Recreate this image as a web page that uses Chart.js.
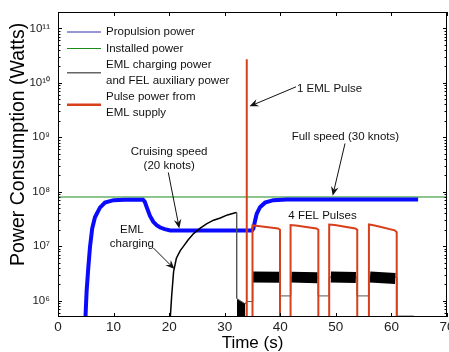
<!DOCTYPE html>
<html>
<head>
<meta charset="utf-8">
<script src="https://cdn.jsdelivr.net/npm/chart.js@4/dist/chart.umd.min.js"></script>
<style>
  html, body { margin: 0; padding: 0; background: #fff; }
  canvas { display: block; }
</style>
</head>
<body>
<canvas id="chart" width="449" height="352"></canvas>
<script>
// values: time in s, power in W
const propTime  = [4.85, 5.15, 5.45, 5.75, 6.15, 6.65, 7.55, 8.45, 10.0, 12.0, 15.3, 15.6, 15.96, 16.55, 17.15, 17.8, 18.4, 19.2, 20.2, 25.0, 30.0, 34.9, 35.15, 35.45, 35.75, 36.35, 37.25, 38.75, 41.15, 50.0, 64.8];
const propPower = [3e5, 1.5e6, 4e6, 9.5e6, 2.1e7, 3.4e7, 5.1e7, 6.3e7, 7.0e7, 7.1e7, 7.1e7, 6.6e7, 5.2e7, 3.6e7, 2.8e7, 2.4e7, 2.2e7, 2.05e7, 1.95e7, 1.95e7, 1.95e7, 1.95e7, 2.1e7, 2.9e7, 3.9e7, 5.2e7, 6.3e7, 7.0e7, 7.2e7, 7.2e7, 7.2e7];

const installTime  = [0, 70];
const installPower = [8e7, 8e7];

const emlTime  = [20.15, 20.45, 20.8, 21.3, 22.0, 22.6, 23.4, 24.4, 25.6, 26.8, 28.0, 29.2, 30.5, 31.9, 32.15, 32.15, 33.7, 33.95, 35.05, 35.05, 39.95, 39.95, 41.9, 41.9, 46.85, 46.85, 48.8, 48.8, 53.85, 53.85, 55.95, 55.95, 60.95, 60.95, 64.0];
const emlPower = [4e5, 1.2e6, 3.4e6, 6.0e6, 8.3e6, 1.0e7, 1.3e7, 1.7e7, 2.15e7, 2.6e7, 3.0e7, 3.3e7, 3.75e7, 4.1e7, 4.15e7, 1.1e6, 8.7e5, 9.6e5, 9.6e5, 2.7e6, 2.7e6, 1.22e6, 1.22e6, 2.7e6, 2.7e6, 1.22e6, 1.22e6, 2.7e6, 2.7e6, 1.22e6, 1.22e6, 2.7e6, 2.7e6, 5.2e5, 5.2e5];

// discharge block right after charging, and the FEL auxiliary ripple band
const blockTime  = [32.2, 32.9, 33.7];
const blockPower = [1.07e6, 9.6e5, 8.7e5];
const felTime  = [35.1, 39.9, 40.9, 42.0, 46.7, 47.9, 49.1, 53.6, 54.9, 56.15, 60.7];
const felPower = [2.72e6, 2.68e6, null, 2.7e6, 2.62e6, null, 2.72e6, 2.65e6, null, 2.72e6, 2.55e6];

const pulseTime  = [33.9, 33.9, 34.0, 34.0, 35.0, 35.0, 36.0, 39.6, 39.95, 39.95, 41.85, 41.85, 42.8, 46.5, 46.85, 46.85, 48.8, 48.8, 49.8, 53.5, 53.85, 53.85, 55.95, 55.95, 57.0, 60.6, 60.95, 60.95];
const pulsePower = [1e5, 2.7e10, 2.7e10, 1e5, 1e5, 2.4e7, 2.35e7, 2.12e7, 2.0e7, 1e5, 1e5, 2.45e7, 2.4e7, 2.12e7, 2.0e7, 1e5, 1e5, 2.5e7, 2.45e7, 2.12e7, 2.0e7, 1e5, 1e5, 2.5e7, 2.4e7, 1.95e7, 1.8e7, 1e5];

const seriesLabels = [
  ['Propulsion power'],
  ['Installed power'],
  ['EML charging power', 'and FEL auxiliary power'],
  ['Pulse power from', 'EML supply']
];

const xTicks = [0, 10, 20, 30, 40, 50, 60, 70];

// text notes and arrows, anchored in data units (time, watts)
const notes = [
  { lines: ['1 EML Pulse'], at: [43.0, 7.9e9], align: 'left' },
  { lines: ['Cruising speed', '(20 knots)'], at: [20.0, 5.3e8], align: 'center' },
  { lines: ['Full speed (30 knots)'], at: [42.05, 1.03e9], align: 'left' },
  { lines: ['EML', 'charging'], at: [13.3, 1.98e7], align: 'center' },
  { lines: ['4 FEL Pulses'], at: [41.44, 3.55e7], align: 'left' }
];
const arrows = [
  { from: [42.83, 8.45e9], to: [34.46, 3.7e9] },
  { from: [19.85, 2.26e8], to: [21.83, 2.12e7] },
  { from: [51.65, 7.7e8], to: [49.43, 8.45e7] },
  { from: [17.15, 9.3e6], to: [20.96, 3.8e6] }
];

const FONT = '"Liberation Sans", Arial, sans-serif';
const SUP = { '0': '⁰', '1': '¹', '2': '²', '3': '³', '4': '⁴', '5': '⁵', '6': '⁶', '7': '⁷', '8': '⁸', '9': '⁹' };

const pts = (xs, ys) => xs.map((x, i) => ({ x: x, y: ys[i] }));
const decade = v => {
  const l = Math.log10(v);
  return Math.abs(l - Math.round(l)) < 1e-6 ? Math.round(l) : null;
};
const wholeMantissa = v => {
  const m = v / Math.pow(10, Math.floor(Math.log10(v) + 1e-9));
  return Math.abs(m - Math.round(m)) < 1e-6;
};

// box + inside ticks (matlab style)
const frame = {
  id: 'frame',
  afterDatasetsDraw(chart) {
    const { ctx, chartArea: a, scales: { x, y } } = chart;
    ctx.save();
    ctx.strokeStyle = '#000';
    ctx.lineWidth = 1;
    ctx.beginPath();
    x.ticks.forEach(t => {
      const px = Math.round(x.getPixelForValue(t.value)) + 0.5;
      ctx.moveTo(px, a.bottom); ctx.lineTo(px, a.bottom - 4);
      ctx.moveTo(px, a.top); ctx.lineTo(px, a.top + 4);
    });
    y.ticks.forEach(t => {
      if (t.value <= y.min || t.value >= y.max || !wholeMantissa(t.value)) return;
      const len = decade(t.value) !== null ? 4 : 2.5;
      const py = Math.round(y.getPixelForValue(t.value)) + 0.5;
      ctx.moveTo(a.left, py); ctx.lineTo(a.left + len, py);
      ctx.moveTo(a.right, py); ctx.lineTo(a.right - len, py);
    });
    ctx.stroke();
    ctx.strokeRect(a.left + 0.5, a.top + 0.5, a.right - a.left - 1, a.bottom - a.top - 1);
    ctx.restore();
  }
};

const notesPlugin = {
  id: 'notes',
  afterDraw(chart) {
    const { ctx, scales: { x, y } } = chart;
    ctx.save();
    ctx.font = '11.5px ' + FONT;
    ctx.fillStyle = '#111';
    ctx.textBaseline = 'middle';
    notes.forEach(n => {
      ctx.textAlign = n.align;
      const px = x.getPixelForValue(n.at[0]);
      const py = y.getPixelForValue(n.at[1]);
      n.lines.forEach((t, i) => ctx.fillText(t, px, py + i * 14));
    });
    ctx.strokeStyle = '#111';
    ctx.lineWidth = 1;
    arrows.forEach(ar => {
      const x1 = x.getPixelForValue(ar.from[0]), y1 = y.getPixelForValue(ar.from[1]);
      const x2 = x.getPixelForValue(ar.to[0]), y2 = y.getPixelForValue(ar.to[1]);
      const ang = Math.atan2(y2 - y1, x2 - x1);
      const c = Math.cos(ang), s = Math.sin(ang);
      ctx.beginPath();
      ctx.moveTo(x1, y1);
      ctx.lineTo(x2 - c * 6, y2 - s * 6);
      ctx.stroke();
      ctx.beginPath();
      ctx.moveTo(x2, y2);
      ctx.lineTo(x2 - c * 9 - s * 3.8, y2 - s * 9 + c * 3.8);
      ctx.lineTo(x2 - c * 6, y2 - s * 6);
      ctx.lineTo(x2 - c * 9 + s * 3.8, y2 - s * 9 - c * 3.8);
      ctx.closePath();
      ctx.fill();
    });
    ctx.restore();
  }
};

const legendBox = {
  id: 'legendBox',
  afterDraw(chart) {
    const { ctx, chartArea: a } = chart;
    ctx.save();
    ctx.font = '11.5px ' + FONT;
    ctx.fillStyle = '#111';
    ctx.textBaseline = 'middle';
    ctx.textAlign = 'left';
    let yy = a.top + 20;
    chart.data.datasets.forEach(ds => {
      if (!ds.legendLines) return;
      const n = ds.legendLines.length;
      const mid = yy + (n - 1) * 15.5 / 2;
      ctx.strokeStyle = ds.legendColor || ds.borderColor;
      ctx.lineWidth = ds.legendWidth;
      ctx.beginPath();
      ctx.moveTo(a.left + 9, mid);
      ctx.lineTo(a.left + 43, mid);
      ctx.stroke();
      ds.legendLines.forEach((t, i) => ctx.fillText(t, a.left + 48, yy + i * 15.5));
      yy += (n - 1) * 15.5 + 16.5;
    });
    ctx.restore();
  }
};

const BLUE = '#0a0aff', GREEN = '#1b8c1b', BLACK = '#000', RED = '#d8401c';

new Chart(document.getElementById('chart'), {
  type: 'line',
  data: {
    datasets: [
      { label: seriesLabels[0].join(' '), legendLines: seriesLabels[0], legendWidth: 1, legendColor: '#3030b0',
        data: pts(propTime, propPower), borderColor: BLUE, borderWidth: 4, order: 3 },
      { label: seriesLabels[1].join(' '), legendLines: seriesLabels[1], legendWidth: 1,
        data: pts(installTime, installPower), borderColor: GREEN, borderWidth: 1, order: 4 },
      { label: seriesLabels[2].join(' '), legendLines: seriesLabels[2], legendWidth: 1.5, legendColor: '#666',
        data: pts(emlTime, emlPower), borderColor: BLACK, borderWidth: 1.5, order: 2,
        segment: { borderColor: c => c.p0.parsed.x >= 32.1 ? '#555' : undefined,
                   borderWidth: c => c.p0.parsed.x >= 32.1 ? 1 : undefined } },
      { label: 'EML discharge', data: pts(blockTime, blockPower), borderColor: BLACK,
        borderWidth: 0, backgroundColor: BLACK, fill: { value: 1e5 }, order: 1 },
      { label: 'FEL auxiliary ripple', data: pts(felTime, felPower), borderColor: BLACK,
        borderWidth: 11, borderCapStyle: 'butt', spanGaps: false, order: 1 },
      { label: seriesLabels[3].join(' '), legendLines: seriesLabels[3], legendWidth: 2.5,
        data: pts(pulseTime, pulsePower), borderColor: RED, borderWidth: 2, order: 0 }
    ]
  },
  options: {
    responsive: false,
    animation: false,
    events: [],
    elements: { point: { radius: 0 }, line: { tension: 0 } },
    layout: { padding: { top: 12, right: 2, left: 0, bottom: 0 } },
    plugins: { legend: { display: false }, tooltip: { enabled: false } },
    scales: {
      x: {
        type: 'linear', min: 0, max: 70,
        grid: { display: false, drawTicks: false }, border: { display: false },
        afterBuildTicks: s => { s.ticks = xTicks.map(v => ({ value: v })); },
        ticks: { font: { family: FONT, size: 13.5 }, color: '#222', padding: 2, maxRotation: 0 },
        title: { display: true, text: 'Time (s)', color: '#000',
                 font: { family: FONT, size: 17, lineHeight: 1 }, padding: 0 },
        afterFit: s => { s.height = 35; s.paddingLeft = 0; s.paddingRight = 0; }
      },
      y: {
        type: 'logarithmic', min: 5e5, max: 2e11,
        grid: { display: false, drawTicks: false }, border: { display: false },
        ticks: {
          autoSkip: false, padding: 8, color: '#222',
          font: { family: FONT, size: 11.5 },
          callback: v => {
            const d = decade(v);
            return d === null ? '' : '10' + String(d).split('').map(ch => SUP[ch]).join('');
          }
        },
        title: { display: true, text: 'Power Consumption (Watts)\u00a0\u00a0', align: 'end', color: '#000',
                 font: { family: FONT, size: 19.5, lineHeight: 1 }, padding: { top: 9, bottom: 0 } },
        afterFit: s => { s.width = 58; s.paddingTop = 0; s.paddingBottom = 0; }
      }
    }
  },
  plugins: [frame, notesPlugin, legendBox]
});
</script>
</body>
</html>
